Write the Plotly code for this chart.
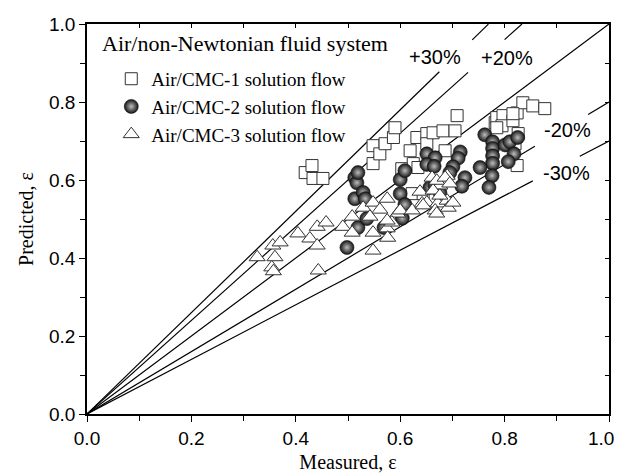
import plotly.graph_objects as go

# ---------------- data ----------------
cmc1_x = [0.418, 0.431, 0.433, 0.452, 0.548, 0.548, 0.561, 0.571, 0.587, 0.590,
          0.603, 0.619, 0.625, 0.632, 0.651, 0.651, 0.663, 0.682, 0.705, 0.709,
          0.686, 0.623, 0.644, 0.634, 0.782, 0.785, 0.797, 0.795, 0.816, 0.824,
          0.835, 0.854, 0.877, 0.826, 0.820, 0.824, 0.785, 0.816]
cmc1_y = [0.619, 0.637, 0.604, 0.604, 0.642, 0.688, 0.667, 0.693, 0.709, 0.734,
          0.629, 0.675, 0.642, 0.709, 0.719, 0.693, 0.721, 0.726, 0.726, 0.765,
          0.675, 0.565, 0.565, 0.632, 0.747, 0.760, 0.765, 0.739, 0.752, 0.772,
          0.798, 0.790, 0.783, 0.719, 0.693, 0.637, 0.734, 0.770]

cmc2_x = [0.498, 0.513, 0.513, 0.517, 0.519, 0.519, 0.529, 0.533, 0.536, 0.569,
          0.600, 0.600, 0.609, 0.609, 0.604, 0.651, 0.667, 0.651, 0.665, 0.657,
          0.676, 0.667, 0.715, 0.711, 0.701, 0.695, 0.724, 0.718, 0.762, 0.777,
          0.777, 0.777, 0.777, 0.753, 0.776, 0.770, 0.801, 0.810, 0.825, 0.818,
          0.807]
cmc2_y = [0.427, 0.552, 0.606, 0.593, 0.619, 0.478, 0.568, 0.552, 0.501, 0.478,
          0.565, 0.601, 0.624, 0.537, 0.502, 0.667, 0.657, 0.640, 0.635, 0.581,
          0.568, 0.586, 0.672, 0.656, 0.634, 0.619, 0.606, 0.584, 0.716, 0.698,
          0.681, 0.662, 0.643, 0.632, 0.611, 0.581, 0.690, 0.698, 0.709, 0.667,
          0.647]

cmc3_x = [0.326, 0.356, 0.370, 0.360, 0.354, 0.357, 0.404, 0.427, 0.441, 0.441,
          0.458, 0.443, 0.490, 0.508, 0.508, 0.529, 0.548, 0.575, 0.561, 0.542,
          0.548, 0.575, 0.595, 0.584, 0.576, 0.548, 0.600, 0.575, 0.623, 0.638,
          0.642, 0.661, 0.676, 0.690, 0.651, 0.672, 0.690, 0.667, 0.692, 0.701,
          0.663, 0.670, 0.686, 0.676, 0.670, 0.644, 0.695]
cmc3_y = [0.402, 0.432, 0.440, 0.402, 0.376, 0.366, 0.463, 0.450, 0.432, 0.480,
          0.491, 0.368, 0.480, 0.465, 0.506, 0.529, 0.542, 0.552, 0.524, 0.506,
          0.465, 0.476, 0.514, 0.491, 0.452, 0.419, 0.522, 0.496, 0.522, 0.570,
          0.540, 0.606, 0.586, 0.611, 0.542, 0.540, 0.547, 0.522, 0.529, 0.542,
          0.573, 0.598, 0.606, 0.560, 0.514, 0.535, 0.591]

# deviation lines: ratio of predicted/measured and drawn x-segments
line_ratios = [1.3, 1.2, 1.0, 0.8, 0.7]
line_segments = [
    [(0.0, 0.675), (0.738, 0.769)],
    [(0.0, 0.730), (0.800, 0.8333)],
    [(0.0, 1.0)],
    [(0.0, 0.858), (0.960, 1.0)],
    [(0.0, 0.854), (0.944, 1.0)],
]
line_labels = ["+30%", "+20%", "-20%", "-30%"]
label_x = [0.667, 0.804, 0.920, 0.918]
label_y = [0.915, 0.913, 0.728, 0.618]

tick_vals = [0.0, 0.2, 0.4, 0.6, 0.8, 1.0]
tick_text = ["0.0", "0.2", "0.4", "0.6", "0.8", "1.0"]
# last x label nudged left (trailing spaces) so it stays inside the page
x_tick_text = tick_text[:-1] + [tick_text[-1] + "\u00a0\u00a0\u00a0"]

SERIF = "Liberation Serif, Times New Roman, serif"
SANS = "Liberation Sans, Arial, sans-serif"

fig = go.Figure()

# lines
for r, segs in zip(line_ratios, line_segments):
    xs, ys = [], []
    for a, b in segs:
        xs += [a, b, None]
        ys += [r * a, r * b, None]
    fig.add_trace(go.Scatter(x=xs, y=ys, mode="lines",
                             line=dict(color="black", width=1.2),
                             showlegend=False, hoverinfo="skip"))

fig.add_trace(go.Scatter(
    x=cmc1_x, y=cmc1_y, mode="markers", name="Air/CMC-1 solution flow",
    marker=dict(symbol="square", size=12, color="white",
                line=dict(color="#333333", width=1))))
fig.add_trace(go.Scatter(
    x=cmc2_x, y=cmc2_y, mode="markers", name="Air/CMC-2 solution flow",
    marker=dict(symbol="circle", size=14, color="#141414",
                gradient=dict(type="radial", color="#bdbdbd"),
                line=dict(color="#111111", width=0.6))))
fig.add_trace(go.Scatter(
    x=cmc3_x, y=cmc3_y, mode="markers", name="Air/CMC-3 solution flow",
    marker=dict(symbol="triangle-up", size=14, color="white",
                line=dict(color="#333333", width=1))))

# invisible trace for mirrored axes
fig.add_trace(go.Scatter(x=[0, 1], y=[0, 1], xaxis="x2", yaxis="y2",
                         mode="markers", marker=dict(opacity=0),
                         showlegend=False, hoverinfo="skip"))

for t, x, y in zip(line_labels, label_x, label_y):
    fig.add_annotation(x=x, y=y, text=t, showarrow=False,
                       font=dict(family=SANS, size=20, color="black"))

fig.add_annotation(xref="paper", yref="paper", x=0.025, y=0.951,
                   xanchor="left", yanchor="middle", showarrow=False,
                   text="Air/non-Newtonian fluid system",
                   font=dict(family=SERIF, size=22, color="black"))

axis_common = dict(range=[0, 1], showgrid=False, zeroline=False,
                   showline=True, linecolor="black", linewidth=1.5,
                   automargin=False)

# the page places the plot 8 px in from the top-left corner
fig.update_layout(
    width=616, height=465,
    margin=dict(l=79, r=15, t=16, b=59),
    paper_bgcolor="white", plot_bgcolor="white",
    xaxis=dict(**axis_common, tickvals=tick_vals, ticktext=x_tick_text,
               ticklabeloverflow="allow",
               ticks="outside", ticklen=6, tickwidth=1.2, tickcolor="black",
               minor=dict(dtick=0.1, ticks="outside", ticklen=5,
                          tickcolor="black", tickwidth=1.2),
               tickfont=dict(family=SANS, size=19, color="black"),
               title=dict(text="Measured, ε", standoff=8,
                          font=dict(family=SERIF, size=20, color="black"))),
    yaxis=dict(**axis_common, tickvals=tick_vals, ticktext=tick_text,
               ticks="outside", ticklen=6, tickwidth=1.2, tickcolor="black",
               minor=dict(dtick=0.1, ticks="outside", ticklen=5,
                          tickcolor="black", tickwidth=1.2),
               tickfont=dict(family=SANS, size=19, color="black"),
               title=dict(text="Predicted, ε", standoff=10,
                          font=dict(family=SERIF, size=20, color="black"))),
    xaxis2=dict(**axis_common, overlaying="x", side="top",
                tickvals=tick_vals, ticks="inside", ticklen=4,
                tickcolor="black", tickwidth=1, showticklabels=False,
                minor=dict(dtick=0.1, ticks="inside", ticklen=4,
                           tickcolor="black")),
    yaxis2=dict(**axis_common, overlaying="y", side="right",
                tickvals=tick_vals, ticks="inside", ticklen=4,
                tickcolor="black", tickwidth=1, showticklabels=False,
                minor=dict(dtick=0.1, ticks="inside", ticklen=4,
                           tickcolor="black")),
    legend=dict(x=0.0465, y=0.908, xanchor="left", yanchor="top",
                bgcolor="rgba(0,0,0,0)", borderwidth=0,
                font=dict(family=SERIF, size=19, color="black"),
                tracegroupgap=0, itemsizing="trace"),
    showlegend=True,
)

fig.write_html("out.html")
